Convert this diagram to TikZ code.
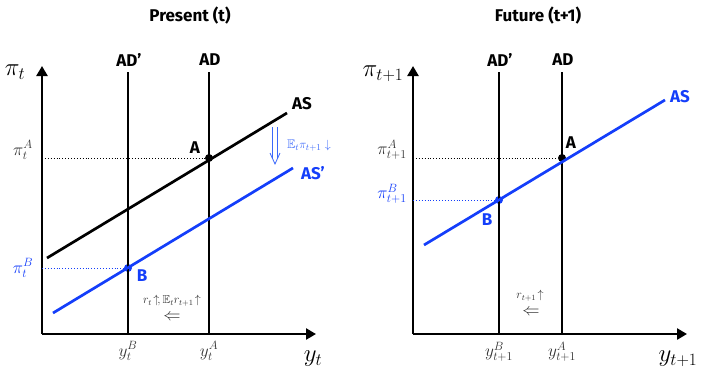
\documentclass[tikz,border=0pt]{standalone}
\usepackage{amssymb}
\usepackage{fontspec}
\setsansfont{Fira Sans}
\usetikzlibrary{arrows.meta}
\definecolor{asblue}{RGB}{20,62,250}
\definecolor{lblue}{RGB}{60,105,250}
\definecolor{txtgray}{RGB}{50,50,50}
\begin{document}
\begin{tikzpicture}[x=1pt,y=-1pt,
  lbl/.style={font=\sffamily\bfseries\fontsize{17}{19}\selectfont},
  ttl/.style={font=\sffamily\bfseries\fontsize{17}{19}\selectfont},
  curve/.style={line width=2.7pt},
  axis/.style={line width=2.7pt,-{Triangle[width=11pt,length=10pt]}},
  guide/.style={dotted,line width=0.9pt},
  dot/.style={circle,fill,inner sep=0pt,minimum size=8pt},
  mlab/.style={font=\fontsize{17}{19}\selectfont, text=txtgray},
  big/.style={font=\fontsize{25}{27}\selectfont},
  small/.style={font=\fontsize{11.5}{13}\selectfont, text=txtgray, inner sep=0pt},
  larr/.style={font=\fontsize{19}{21}\selectfont, text=txtgray, inner sep=0pt},
  thin/.style={line width=0.8pt}]
\useasboundingbox (0,0) rectangle (703,372);

% ---------------- Left panel: Present ----------------
\node[ttl] (t1) at (190,16) {Present (t)};
\coordinate (O1) at (42,334);
\coordinate (Y1) at (42,66);
\coordinate (X1) at (316,334);
\draw[axis] (O1) -- (Y1);
\draw[axis] (O1) -- (X1);
\node[big] (pit) at (15,72) {$\pi_t$};
\node[big] (yt) at (313,359) {$y_t$};

\coordinate (adp1t) at (128,72);
\coordinate (adp1b) at (128,334);
\coordinate (ad1t) at (209,72);
\coordinate (ad1b) at (209,334);
\node[lbl] (adp1) at (129,60) {AD’};
\node[lbl] (ad1) at (210,60) {AD};

\node[dot] (A1) at (209,158) {};
\node[dot,asblue] (B1) at (128,268) {};
\coordinate (pA1) at (42,158);
\coordinate (pB1) at (42,268);
\draw[guide] (pA1) -- (A1);
\draw[guide,asblue] (pB1) -- (B1);

\draw[curve] (adp1t) -- (adp1b);
\draw[curve] (ad1t) -- (ad1b);

\coordinate (as1s) at (47,258);
\coordinate (as1e) at (287,113);
\draw[curve] (as1s) -- (as1e);
\node[lbl] (asl1) at (302,104) {AS};
\coordinate (asp1s) at (53,313);
\coordinate (asp1e) at (293,168);
\draw[curve,asblue] (asp1s) -- (asp1e);
\node[lbl,asblue] (aspl1) at (313,173) {AS’};

\node[lbl] (Al1) at (195,148) {A};
\node[lbl,asblue] (Bl1) at (142,276) {B};
\node[mlab] (piA1) at (23,150) {$\pi_t^A$};
\node[mlab,asblue] (piB1) at (23,268) {$\pi_t^B$};

% blue double arrow (expected inflation falls)
\coordinate (sh1) at (275,127);
\draw[thin,lblue,shift={(sh1)}] (-2.5,0) -- (-2.5,31) (2.5,0) -- (2.5,31)
      (-5,26) -- (0,37) -- (5,26);
\node[font=\fontsize{12.5}{14}\selectfont,lblue] (Epi) at (309,146) {$\mathbb{E}_t\pi_{t+1}\downarrow$};

\node[small] (rt) at (172,301) {$r_t\!\uparrow\!,\mathbb{E}_t r_{t+1}\!\uparrow$};
\node[larr] (la1) at (172,317) {$\Leftarrow$};

\node[mlab] (yB1) at (128,351) {$y_t^B$};
\node[mlab] (yA1) at (209,351) {$y_t^A$};

% ---------------- Right panel: Future ----------------
\node[ttl] (t2) at (538,16) {Future (t+1)};
\coordinate (O2) at (413,334);
\coordinate (Y2) at (413,66);
\coordinate (X2) at (687,334);
\draw[axis] (O2) -- (Y2);
\draw[axis] (O2) -- (X2);
\node[big] (pit1) at (383,74) {$\pi_{t+1}$};
\node[big] (yt1) at (678,359) {$y_{t+1}$};

\coordinate (adp2t) at (499,72);
\coordinate (adp2b) at (499,334);
\coordinate (ad2t) at (562,72);
\coordinate (ad2b) at (562,334);
\node[lbl] (adp2) at (500,60) {AD’};
\node[lbl] (ad2) at (563,60) {AD};

\node[dot] (A2) at (562,158) {};
\node[dot,asblue] (B2) at (499,200) {};
\coordinate (pA2) at (413,158);
\coordinate (pB2) at (413,200);
\draw[guide] (pA2) -- (A2);
\draw[guide,asblue] (pB2) -- (B2);

\draw[curve] (adp2t) -- (adp2b);
\draw[curve] (ad2t) -- (ad2b);

\coordinate (as2s) at (424,245);
\coordinate (as2e) at (665,100);
\draw[curve,asblue] (as2s) -- (as2e);
\node[lbl,asblue] (asl2) at (680,97) {AS};

\node[lbl] (Al2) at (571,143) {A};
\node[lbl,asblue] (Bl2) at (487,220) {B};
\node[mlab] (piA2) at (392,150) {$\pi_{t+1}^A$};
\node[mlab,asblue] (piB2) at (392,194) {$\pi_{t+1}^B$};

\node[small] (rt1) at (530,296) {$r_{t+1}\!\uparrow$};
\node[larr] (la2) at (531,312) {$\Leftarrow$};

\node[mlab] (yB2) at (499,352) {$y_{t+1}^B$};
\node[mlab] (yA2) at (562,352) {$y_{t+1}^A$};
\end{tikzpicture}
\end{document}
